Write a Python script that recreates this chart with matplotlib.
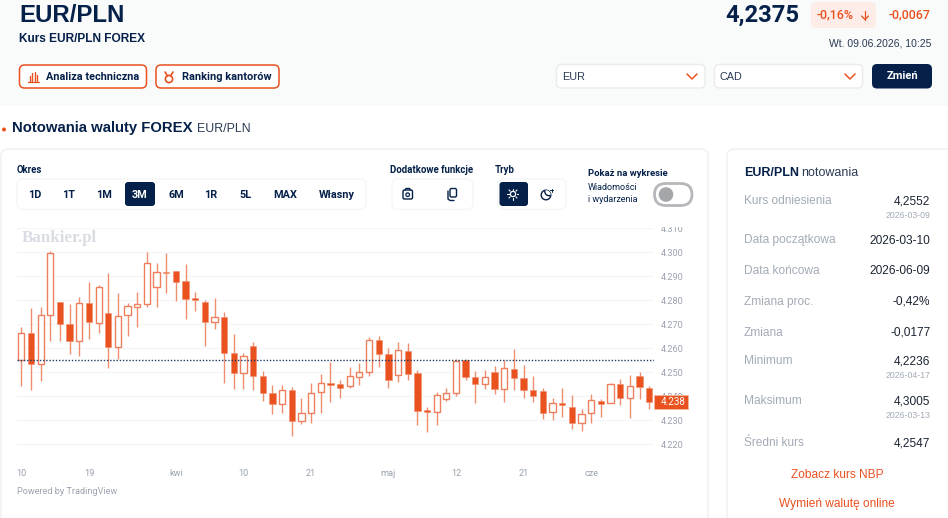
import matplotlib
matplotlib.use("Agg")
import matplotlib.pyplot as plt
from matplotlib.patches import FancyBboxPatch, Rectangle, Circle

# candles, 10 Mar - 9 Jun
opens = [4.2550, 4.2664, 4.2533, 4.2738, 4.2792, 4.2701, 4.2629, 4.2788, 4.2707, 4.2749, 4.2604,
         4.2738, 4.2774, 4.2785, 4.2857, 4.2919, 4.2922, 4.2879, 4.2808, 4.2794, 4.2710, 4.2729,
         4.2581, 4.2496, 4.2608, 4.2485, 4.2412, 4.2369, 4.2425, 4.2299, 4.2329, 4.2419, 4.2457,
         4.2451, 4.2444, 4.2481, 4.2503, 4.2633, 4.2578, 4.2488, 4.2590, 4.2497, 4.2343, 4.2335,
         4.2390, 4.2415, 4.2550, 4.2482, 4.2453, 4.2503, 4.2431, 4.2515, 4.2475, 4.2425, 4.2422,
         4.2335, 4.2374, 4.2357, 4.2290, 4.2329, 4.2379, 4.2372, 4.2451, 4.2394, 4.2485, 4.2435]
highs = [4.2688, 4.2767, 4.2771, 4.3004, 4.2792, 4.2783, 4.2812, 4.2876, 4.2862, 4.2912, 4.2829,
         4.2788, 4.2836, 4.3000, 4.2954, 4.2997, 4.2922, 4.2951, 4.2835, 4.2801, 4.2811, 4.2750,
         4.2660, 4.2581, 4.2628, 4.2507, 4.2447, 4.2449, 4.2437, 4.2393, 4.2454, 4.2492, 4.2544,
         4.2468, 4.2522, 4.2538, 4.2646, 4.2653, 4.2600, 4.2625, 4.2622, 4.2510, 4.2354, 4.2417,
         4.2433, 4.2554, 4.2557, 4.2504, 4.2510, 4.2526, 4.2550, 4.2596, 4.2532, 4.2485, 4.2433,
         4.2393, 4.2433, 4.2406, 4.2349, 4.2411, 4.2389, 4.2457, 4.2471, 4.2489, 4.2500, 4.2443]
lows = [4.2443, 4.2426, 4.2464, 4.2632, 4.2632, 4.2576, 4.2569, 4.2638, 4.2665, 4.2517, 4.2557,
        4.2653, 4.2688, 4.2774, 4.2771, 4.2831, 4.2796, 4.2724, 4.2756, 4.2610, 4.2681, 4.2456,
        4.2431, 4.2431, 4.2426, 4.2381, 4.2328, 4.2332, 4.2236, 4.2286, 4.2290, 4.2332, 4.2378,
        4.2393, 4.2433, 4.2449, 4.2486, 4.2524, 4.2433, 4.2458, 4.2468, 4.2282, 4.2253, 4.2282,
        4.2382, 4.2403, 4.2468, 4.2374, 4.2431, 4.2408, 4.2376, 4.2426, 4.2393, 4.2376, 4.2306,
        4.2303, 4.2314, 4.2263, 4.2256, 4.2288, 4.2313, 4.2371, 4.2364, 4.2311, 4.2389, 4.2346]
closes = [4.2665, 4.2533, 4.2738, 4.2996, 4.2700, 4.2629, 4.2788, 4.2710, 4.2857, 4.2604, 4.2736,
          4.2775, 4.2786, 4.2956, 4.2918, 4.2915, 4.2878, 4.2806, 4.2803, 4.2710, 4.2729, 4.2582,
          4.2499, 4.2568, 4.2483, 4.2412, 4.2369, 4.2425, 4.2297, 4.2332, 4.2415, 4.2457, 4.2446,
          4.2436, 4.2483, 4.2503, 4.2633, 4.2576, 4.2468, 4.2593, 4.2493, 4.2340, 4.2335, 4.2404,
          4.2412, 4.2546, 4.2481, 4.2453, 4.2482, 4.2431, 4.2518, 4.2478, 4.2426, 4.2403, 4.2332,
          4.2374, 4.2365, 4.2288, 4.2326, 4.2385, 4.2368, 4.2450, 4.2394, 4.2444, 4.2440, 4.2375]
ref_price = 4.2552
last_price = 4.2375
last_label = "4.238"

y_ticks = [4.22, 4.23, 4.24, 4.25, 4.26, 4.27, 4.28, 4.29, 4.30, 4.31]
x_tick_pos = [0, 7, 16, 23, 30, 38, 45, 52, 59]
x_tick_labels = ["10", "19", "kwi", "10", "21", "maj", "12", "21", "cze"]

periods = ["1D", "1T", "1M", "3M", "6M", "1R", "5L", "MAX", "Własny"]
period_x = [35, 69, 104, 140, 176, 211, 246, 285, 337]

panel_rows = [("Kurs odniesienia", "4,2552", "2026-03-09", 201),
              ("Data początkowa", "2026-03-10", None, 240.5),
              ("Data końcowa", "2026-06-09", None, 271.5),
              ("Zmiana proc.", "-0,42%", None, 302),
              ("Zmiana", "-0,0177", None, 332.5),
              ("Minimum", "4,2236", "2026-04-17", 361),
              ("Maksimum", "4,3005", "2026-03-13", 401.5),
              ("Średni kurs", "4,2547", None, 443)]

W, H = 948, 518
NAVY = "#05214A"
ORANGE = "#E9511F"
GREY = "#9AA3AF"
SANS = "Liberation Sans"
ROB = "Roboto"

plt.rcParams["font.family"] = ["Liberation Sans", "DejaVu Sans"]
fig = plt.figure(figsize=(W / 100, H / 100), dpi=100, facecolor="white")

# page layer in pixel coordinates
page = fig.add_axes([0, 0, 1, 1], zorder=0)
page.set_xlim(0, W)
page.set_ylim(H, 0)
page.axis("off")


def box(x0, y0, x1, y1, r=4, fc="white", ec="none", lw=1.0, z=1):
    p = FancyBboxPatch((x0 + r, y0 + r), x1 - x0 - 2 * r, y1 - y0 - 2 * r,
                       boxstyle="round,pad=%f,rounding_size=%f" % (r, r),
                       fc=fc, ec=ec, lw=lw, zorder=z)
    page.add_patch(p)


def txt(x, y, s, size=9, color=NAVY, weight="normal", ha="left", family=SANS):
    page.text(x, y, s, fontsize=size, color=color, fontweight=weight, ha=ha, va="center",
              family=[family, "DejaVu Sans"], zorder=5)


def seg(xs, ys, color=NAVY, lw=1.0):
    page.plot(xs, ys, color=color, lw=lw, solid_capstyle="round", zorder=5)


# header band
box(-10, -20, 958, 106, r=8, fc="#F9FAFA")
txt(19, 16, "EUR/PLN", size=17.3, weight="bold")
txt(19, 39, "Kurs EUR/PLN FOREX", size=8.6, weight="bold")

box(19.5, 65, 146.5, 88, r=5, fc="white", ec=ORANGE, lw=1.1, z=2)
box(156, 65, 279, 88, r=5, fc="white", ec=ORANGE, lw=1.1, z=2)
txt(46, 77, "Analiza techniczna", size=7.85, weight="bold", family=ROB)
txt(182, 77, "Ranking kantorów", size=7.95, weight="bold", family=ROB)
# bars icon
for bx, bt in zip([30, 32.5, 35, 37.5], [76, 73, 72, 75]):
    seg([bx, bx], [bt, 80.5], color=ORANGE, lw=1.0)
seg([28.5, 39], [81.5, 81.5], color=ORANGE, lw=0.9)
# medal icon
page.add_patch(Circle((169, 79), 3.6, fc="none", ec=ORANGE, lw=1.2, zorder=5))
seg([165, 167.5], [72, 76], color=ORANGE, lw=1.2)
seg([173, 170.5], [72, 76], color=ORANGE, lw=1.2)

txt(725.5, 15, "4,2375", size=17.1, weight="bold", family=ROB)
box(811, 2, 876, 28, r=5, fc="#FDECE7")
txt(816.5, 15, "-0,16%", size=8.9, color=ORANGE, family=ROB, weight="medium")
seg([865, 865], [10.5, 19.5], color=ORANGE, lw=0.9)
seg([861.5, 865, 868.5], [16, 19.5, 16], color=ORANGE, lw=0.9)
txt(931, 15, "-0,0067", size=8.9, color=ORANGE, ha="right", family=ROB, weight="medium")
txt(931, 43, "Wt. 09.06.2026, 10:25", size=7.45, color="#2B3A55", ha="right")

box(556.5, 64.5, 705, 88, r=5, fc="white", ec="#E9EBEE")
box(714.5, 64.5, 862.5, 88, r=5, fc="white", ec="#E9EBEE")
txt(562, 76.5, "EUR", size=7.8, color="#2B3A55")
txt(720, 76.5, "CAD", size=7.8, color="#2B3A55")
seg([687, 692, 697], [74, 79, 74], color=ORANGE, lw=1.1)
seg([845, 850, 855], [74, 79, 74], color=ORANGE, lw=1.1)
box(872, 64, 932, 88.5, r=5, fc=NAVY)
txt(902, 76, "Zmień", size=8, color="white", weight="bold", ha="center", family=ROB)

# section heading
page.add_patch(Circle((4, 129.5), 2, fc=ORANGE, ec="none", zorder=5))
txt(12, 128, "Notowania waluty FOREX", size=10.75, weight="bold")
txt(197, 128.5, "EUR/PLN", size=8.9, color="#2B3A55")

# cards
box(1, 149, 708, 560, r=7, fc="white", ec="#ECEEF0", lw=0.9)
box(727, 149, 980, 560, r=7, fc="white", ec="#ECEEF0", lw=0.9)

# chart controls
txt(17, 170, "Okres", size=6.9, weight="bold", family=ROB)
box(17, 179, 366, 209.5, r=6, fc="white", ec="#F5F6F7")
box(125, 182, 155, 206, r=3, fc=NAVY, z=2)
for name, px in zip(periods, period_x):
    txt(px, 194.5, name, size=7.8, weight="bold", ha="center", family=ROB,
        color="white" if name == "3M" else NAVY)

txt(390, 170, "Dodatkowe funkcje", size=6.95, weight="bold", family=ROB)
box(392, 179, 473, 209.5, r=6, fc="white", ec="#F5F6F7")
box(403, 190, 412.5, 199, r=1.5, fc="none", ec=NAVY, lw=1.0, z=5)
page.add_patch(Circle((407.7, 194.7), 1.8, fc="none", ec=NAVY, lw=0.9, zorder=5))
seg([405, 406, 409.5, 410.5], [190, 188.5, 188.5, 190], lw=1.0)
box(450, 188.5, 456.5, 197, r=1.5, fc="none", ec=NAVY, lw=1.0, z=5)
seg([448, 448, 450, 454], [191, 199, 200.5, 200.5], lw=1.0)

txt(495, 170, "Tryb", size=6.9, weight="bold", family=ROB)
box(498, 179, 566, 209.5, r=6, fc="white", ec="#F5F6F7")
box(499.5, 182, 528, 206, r=3, fc=NAVY, z=2)
page.add_patch(Circle((513, 194), 2.6, fc="none", ec="white", lw=0.9, zorder=5))
for dx, dy in [(0, -5.5), (0, 5.5), (-5.5, 0), (5.5, 0), (-4, -4), (4, 4), (-4, 4), (4, -4)]:
    seg([513 + dx * 0.72, 513 + dx], [194 + dy * 0.72, 194 + dy], color="white", lw=0.8)
# moon, a ring with a second ring clipped to it
moon = Circle((546, 195), 4.8, fc="none", ec=NAVY, lw=1.0, zorder=5)
page.add_patch(moon)
bite = Circle((549, 191.5), 4.2, fc="white", ec=NAVY, lw=1.0, zorder=5)
page.add_patch(bite)
bite.set_clip_path(Circle((546, 195), 4.8, transform=page.transData))
seg([552, 552], [188.5, 191.5], lw=0.7)
seg([550.5, 553.5], [190, 190], lw=0.7)

txt(588, 173, "Pokaż na wykresie", size=6.8, weight="bold", family=ROB)
txt(588, 188, "Wiadomości", size=6.5, family=ROB)
txt(588, 200, "i wydarzenia", size=6.5, family=ROB)
box(654.5, 183.5, 692, 205.5, r=11, fc="white", ec="#B5B7BA", lw=2.0)
page.add_patch(Circle((666, 194.5), 7.3, fc="#A4A6A9", ec="none", zorder=5))

# watermark
page.text(22, 238, "Bankier.pl", fontsize=12.2, color="#D9DCE2", fontweight="bold", family="Liberation Serif",
          va="center", zorder=5)

txt(17, 492, "Powered by TradingView", size=6.6, color=GREY, family=ROB)

# right panel
txt(744, 173.5, "EUR/PLN", size=9, weight="bold")
txt(801, 173.5, "notowania", size=9, color="#2B3A55")
for label, value, sub, py in panel_rows:
    txt(744, py, label, size=8.6, color="#A3ABB6")
    txt(930.5, py, value, size=8.6, color="#1B2433", ha="right")
    if sub:
        txt(930.5, py + 14, sub, size=6.3, color="#A3ABB6", ha="right")
txt(837, 474.5, "Zobacz kurs NBP", size=8.6, color=ORANGE, ha="center")
txt(837, 503.5, "Wymień walutę online", size=8.6, color=ORANGE, ha="center")

# candle chart, 4.31 sits at y=228.3 and 4.22 at y=444.3
left, right, top, bottom = 17, 654, 228, 456
ax = fig.add_axes([left / W, 1 - bottom / H, (right - left) / W, (bottom - top) / H], zorder=2)
ax.patch.set_alpha(0)
ax.set_xlim(-0.448, 65.5)
ax.set_ylim(4.22 - (bottom - 444.3) / 2400, 4.31 + (228.3 - top) / 2400)
for s in ax.spines.values():
    s.set_visible(False)
ax.yaxis.tick_right()
ax.set_yticks(y_ticks)
ax.set_yticklabels(["%.3f" % v for v in y_ticks])
ax.set_xticks(x_tick_pos)
ax.set_xticklabels(x_tick_labels)
ax.tick_params(axis="both", length=0, labelcolor=GREY, labelsize=6.6)
ax.tick_params(axis="y", pad=4.8)
ax.tick_params(axis="x", pad=9)
for lab in ax.get_xticklabels() + ax.get_yticklabels():
    lab.set_family(ROB)
ax.grid(axis="y", color="#F5F6F7", lw=1)
ax.set_axisbelow(True)

for i in range(len(opens)):
    o, h, l, c = opens[i], highs[i], lows[i], closes[i]
    ax.vlines(i, l, h, color="#F08E70", lw=1.0, zorder=2)
    if c < o:
        ax.bar(i, o - c, bottom=c, width=0.66, color=ORANGE, edgecolor="#F08E70", lw=0.4, zorder=3)
    else:
        ax.bar(i, c - o, bottom=o, width=0.64, color="white", edgecolor="#EE7F5E", lw=1.0, zorder=3)

ax.axhline(ref_price, color="#1F3A63", lw=1.0, ls=(0, (1, 1.3)), zorder=4)
# price tag on the axis, the rectangle goes from 654 to 688
tag_y = last_price + 0.0003
tag_h = 14 / 2400
ax.add_patch(Rectangle((1.0, tag_y - tag_h / 2), 34 / (right - left), tag_h,
                       transform=ax.get_yaxis_transform(), fc=ORANGE, ec="#F4B7A2", lw=0.6,
                       clip_on=False, zorder=6))
ax.text(1.0 + 6.5 / (right - left), tag_y, last_label, transform=ax.get_yaxis_transform(), color="white",
        fontsize=7.0, family=ROB, va="center", ha="left", zorder=7, clip_on=False)

# the top tick label is cut in the original
fig.add_artist(Rectangle((656 / W, 1 - 226.8 / H), 36 / W, 8 / H, transform=fig.transFigure,
                         fc="white", ec="none", zorder=10))

fig.savefig("out.png", dpi=100)
